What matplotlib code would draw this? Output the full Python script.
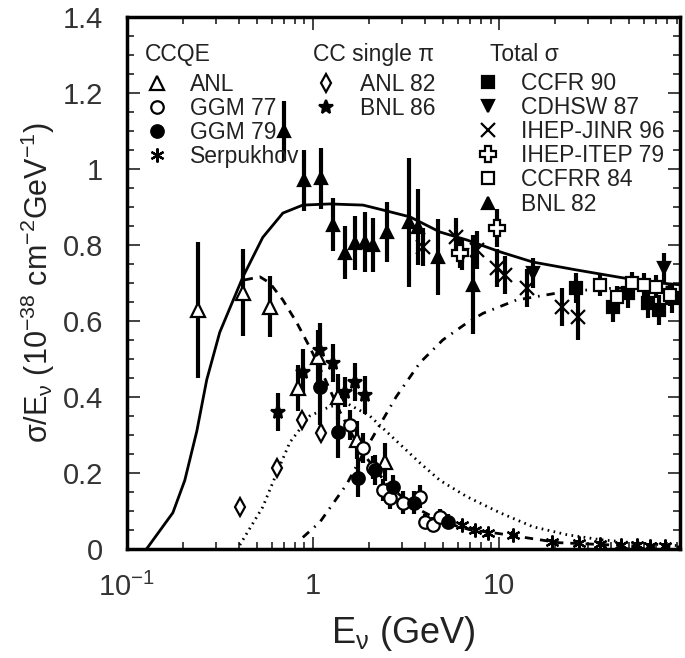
import numpy as np
import matplotlib
matplotlib.use('Agg')
import matplotlib.pyplot as plt
from matplotlib.ticker import MultipleLocator, FixedLocator, NullFormatter, FormatStrFormatter

plt.rcParams['font.family'] = ['Liberation Sans', 'DejaVu Sans']
plt.rcParams['mathtext.default'] = 'regular'

# ---- model curves (E in GeV, sigma/E) ----
tot_E = [0.128, 0.177, 0.205, 0.238, 0.269, 0.316, 0.421, 0.538, 0.69, 0.883, 1.23, 1.86, 2.38, 3.32, 4.82, 6.73, 10.1, 15.2, 26.2, 43, 62.5, 94]
tot_y = [0.0, 0.095, 0.18, 0.31, 0.445, 0.57, 0.716, 0.82, 0.884, 0.905, 0.908, 0.905, 0.892, 0.874, 0.834, 0.813, 0.782, 0.755, 0.734, 0.716, 0.703, 0.695]

qe_E = [0.43, 0.52, 0.587, 0.69, 0.82, 0.964, 1.13, 1.4, 1.8, 2.5, 3.5, 5.0, 7.0, 10.0, 21.0, 50.0, 94.0]
qe_y = [0.708, 0.716, 0.70, 0.655, 0.595, 0.53, 0.46, 0.36, 0.26, 0.17, 0.11, 0.07, 0.05, 0.04, 0.016, 0.008, 0.005]

pi_E = [0.405, 0.538, 0.64, 0.752, 0.964, 1.23, 1.51, 2.02, 2.94, 3.76, 4.82, 6.73, 10.1, 15.2, 23.2, 34.9, 52.4, 79.0, 94.0]
pi_y = [0.01, 0.11, 0.2, 0.28, 0.35, 0.374, 0.384, 0.35, 0.275, 0.226, 0.18, 0.137, 0.095, 0.058, 0.037, 0.024, 0.016, 0.01, 0.008]

dis_E = [0.883, 1.09, 1.52, 1.86, 2.8, 3.76, 4.99, 6.73, 8.2, 12.4, 20.3, 34.9, 94.0]
dis_y = [0.03, 0.07, 0.17, 0.25, 0.40, 0.49, 0.55, 0.595, 0.62, 0.655, 0.673, 0.685, 0.69]

# ---- CCQE data ----
anl_E = [0.241, 0.42, 0.587, 0.83, 1.06, 1.36, 1.72, 2.44]
anl_y = [0.629, 0.674, 0.637, 0.424, 0.505, 0.40, 0.287, 0.229]
anl_err = [0.18, 0.115, 0.08, 0.06, 0.07, 0.06, 0.05, 0.05]

ggm77_E = [1.58, 1.85, 2.1, 2.38, 2.59, 3.04, 3.76, 4.0, 4.4, 4.8]
ggm77_y = [0.326, 0.266, 0.213, 0.155, 0.134, 0.121, 0.137, 0.071, 0.063, 0.084]
ggm77_err = [0.04, 0.04, 0.03, 0.03, 0.03, 0.03, 0.03, 0.02, 0.02, 0.02]

ggm79_E = [1.09, 1.36, 1.75, 2.15, 2.7, 3.5, 5.3]
ggm79_y = [0.426, 0.308, 0.187, 0.208, 0.163, 0.121, 0.071]
ggm79_err = [0.1, 0.07, 0.05, 0.04, 0.03, 0.03, 0.02]

serp_E = [6.3, 7.4, 8.7, 11.9, 19.2, 27, 35, 45, 55, 65, 78]
serp_y = [0.063, 0.05, 0.042, 0.037, 0.018, 0.014, 0.012, 0.01, 0.009, 0.008, 0.008]
serp_err = [0.01, 0.01, 0.01, 0.01, 0.008, 0.008, 0.008, 0.008, 0.008, 0.008, 0.008]

# ---- CC single pi ----
anl82_E = [0.404, 0.64, 0.87, 1.11]
anl82_y = [0.11, 0.213, 0.34, 0.305]
anl82_err = [0.01, 0.015, 0.02, 0.02]

bnl86_E = [0.65, 0.88, 1.09, 1.28, 1.49, 1.68, 1.9]
bnl86_y = [0.36, 0.466, 0.524, 0.489, 0.413, 0.44, 0.405]
bnl86_err = [0.05, 0.06, 0.07, 0.05, 0.04, 0.05, 0.05]

# ---- total sigma ----
ccfr_E = [26, 41, 49, 63, 72, 85]
ccfr_y = [0.687, 0.637, 0.674, 0.647, 0.629, 0.66]
ccfr_err = [0.04, 0.04, 0.04, 0.04, 0.04, 0.04]

cdhsw_E = [6.3, 15.2, 77]
cdhsw_y = [0.774, 0.726, 0.74]
cdhsw_err = [0.04, 0.04, 0.04]

jinr_E = [3.9, 5.9, 7.6, 9.8, 10.8, 14.2, 21.8, 26.4]
jinr_y = [0.795, 0.821, 0.787, 0.739, 0.721, 0.687, 0.637, 0.611]
jinr_err = [0.05, 0.05, 0.05, 0.05, 0.05, 0.05, 0.05, 0.06]

itep_E = [6.2, 9.8]
itep_y = [0.78, 0.845]
itep_err = [0.04, 0.05]

ccfrr_E = [34.9, 43, 52, 60, 70, 83]
ccfrr_y = [0.695, 0.663, 0.70, 0.695, 0.69, 0.668]
ccfrr_err = [0.03, 0.03, 0.03, 0.03, 0.03, 0.03]

bnl82_E = [0.70, 0.895, 1.10, 1.28, 1.49, 1.68, 1.90, 2.10, 2.50, 3.3, 3.67, 4.7, 7.25]
bnl82_y = [1.10, 0.97, 0.976, 0.853, 0.78, 0.805, 0.808, 0.80, 0.834, 0.86, 0.847, 0.768, 0.695]
bnl82_err = [0.08, 0.08, 0.08, 0.07, 0.07, 0.07, 0.08, 0.07, 0.08, 0.17, 0.1, 0.1, 0.13]

fig = plt.figure(figsize=(6.85, 6.58), dpi=100)
ax = fig.add_axes([0.185, 0.166, 0.808, 0.808])

ax.plot(tot_E, tot_y, color='k', lw=2)
ax.plot(qe_E, qe_y, color='k', lw=2, ls=(0, (3, 2.5)))
ax.plot(pi_E, pi_y, color='k', lw=2, ls=(0, (0.6, 1.6)))
ax.plot(dis_E, dis_y, color='k', lw=2, ls=(0, (3, 2.5, 0.6, 2.5)))

def series(E, y, err, marker, face, ms=8):
    ax.errorbar(E, y, yerr=err, fmt='none', ecolor='k', elinewidth=3, capsize=0, zorder=3)
    ln, = ax.plot(E, y, ls='none', marker=marker, mfc=face, mec='k', mew=1.6, ms=ms, zorder=4)
    return ln

h_anl = series(anl_E, anl_y, anl_err, '^', 'white', 10)
h_g77 = series(ggm77_E, ggm77_y, ggm77_err, 'o', 'white', 9)
h_g79 = series(ggm79_E, ggm79_y, ggm79_err, 'o', 'k', 9)
h_serp = series(serp_E, serp_y, serp_err, (6, 2, 0), 'k', 10)
h_anl82 = series(anl82_E, anl82_y, anl82_err, 'd', 'white', 9)
h_bnl86 = series(bnl86_E, bnl86_y, bnl86_err, '*', 'k', 10)
h_ccfr = series(ccfr_E, ccfr_y, ccfr_err, 's', 'k', 9)
h_cdhsw = series(cdhsw_E, cdhsw_y, cdhsw_err, 'v', 'k', 9)
h_jinr = series(jinr_E, jinr_y, jinr_err, 'x', 'k', 10)
h_itep = series(itep_E, itep_y, itep_err, 'P', 'white', 11)
h_ccfrr = series(ccfrr_E, ccfrr_y, ccfrr_err, 's', 'white', 9)
h_bnl82 = series(bnl82_E, bnl82_y, bnl82_err, '^', 'k', 8)

ax.set_xscale('log')
ax.set_xlim(0.1, 94)
ax.set_ylim(0, 1.4)
ax.xaxis.set_major_locator(FixedLocator([0.1, 1, 10]))
ax.set_xticklabels(['$10^{-1}$', '1', '10'])
ax.xaxis.set_minor_formatter(NullFormatter())
ax.yaxis.set_major_locator(MultipleLocator(0.2))
ax.yaxis.set_minor_locator(MultipleLocator(0.05))
ax.yaxis.set_major_formatter(FormatStrFormatter('%g'))
ax.tick_params(which='both', direction='in', top=True, right=True, labelsize=21, width=1.3,
               color='#333333', labelcolor='#333333')
ax.tick_params(which='major', length=9, pad=17)
ax.tick_params(which='minor', length=5)
for s in ax.spines.values():
    s.set_linewidth(2.5)

ax.set_xlabel('E$_{ν}$ (GeV)', fontsize=26, color='#222222', labelpad=9)
ax.set_ylabel('σ/E$_{ν}$ (10$^{-38}$ cm$^{-2}$GeV$^{-1}$)', fontsize=22, color='#222222', labelpad=4)

# legend headers
hdr_kw = dict(transform=ax.transAxes, fontsize=16.5, color='#222222', va='center', ha='left')
ax.text(0.0325, 0.930, 'CCQE', **hdr_kw)
ax.text(0.336, 0.930, 'CC single π', **hdr_kw)
ax.text(0.656, 0.930, 'Total σ', **hdr_kw)

leg_kw = dict(frameon=False, fontsize=16.5, handlelength=1.1, handletextpad=0.9,
              labelspacing=0.05, borderaxespad=0, borderpad=0, labelcolor='#222222',
              loc='upper left')
l1 = ax.legend([h_anl, h_g77, h_g79, h_serp], ['ANL', 'GGM 77', 'GGM 79', 'Serpukhov'],
               bbox_to_anchor=(0.0316, 0.895), **leg_kw)
ax.add_artist(l1)
l2 = ax.legend([h_anl82, h_bnl86], ['ANL 82', 'BNL 86'],
               bbox_to_anchor=(0.338, 0.895), **leg_kw)
ax.add_artist(l2)
ax.legend([h_ccfr, h_cdhsw, h_jinr, h_itep, h_ccfrr, h_bnl82],
          ['CCFR 90', 'CDHSW 87', 'IHEP-JINR 96', 'IHEP-ITEP 79', 'CCFRR 84', 'BNL 82'],
          bbox_to_anchor=(0.6296, 0.897), **leg_kw)

fig.savefig('out.png', dpi=100)
